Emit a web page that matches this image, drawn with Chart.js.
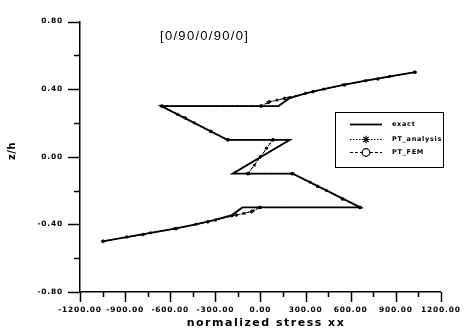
<!DOCTYPE html>
<html><head><meta charset="utf-8">
<script src="https://cdn.jsdelivr.net/npm/chart.js@4/dist/chart.umd.min.js"></script>
<style>html,body{margin:0;padding:0;background:#fff}canvas{display:block}</style>
</head><body>
<canvas id="c" width="472" height="331"></canvas>
<script>
// ---- data ----
const exactX = [1030, 860, 700, 550, 420, 300, 190, 120, -660, -220, 195, -185, 215, 665, -120, -190, -310, -430, -570, -730, -890, -1050];
const exactZ = [0.50, 0.475, 0.45, 0.425, 0.40, 0.375, 0.345, 0.30, 0.30, 0.10, 0.10, -0.10, -0.10, -0.30, -0.30, -0.345, -0.375, -0.40, -0.425, -0.45, -0.475, -0.50];

const ptaX = [1030, 860, 700, 550, 420, 300, 190, 110, 50, 0, -660, -550, -440, -330, -220, 80, 40, 0, -40, -80, 215, 330, 440, 550, 665, 0, -50, -110, -190, -300, -430, -570, -730, -890, -1050];
const ptaZ = [0.50, 0.475, 0.45, 0.425, 0.40, 0.375, 0.35, 0.335, 0.32, 0.30, 0.30, 0.25, 0.20, 0.15, 0.10, 0.10, 0.05, 0.00, -0.05, -0.10, -0.10, -0.15, -0.20, -0.25, -0.30, -0.30, -0.32, -0.335, -0.35, -0.375, -0.40, -0.425, -0.45, -0.475, -0.50];

const ptfX = [1025, 780, 560, 350, 160, 60, 5, -655, -500, -330, -215, 85, 0, -85, 210, 380, 545, 660, -5, -60, -160, -350, -560, -780, -1045];
const ptfZ = [0.50, 0.46, 0.425, 0.385, 0.345, 0.325, 0.30, 0.30, 0.23, 0.15, 0.10, 0.10, 0.00, -0.10, -0.10, -0.175, -0.25, -0.30, -0.30, -0.325, -0.345, -0.385, -0.425, -0.46, -0.50];

const seriesLabels = ["exact", "PT_analysis", "PT_FEM"];
const xTickLabelStep = 300, xMinorStep = 150;
const yTickLabelStep = 0.4, yMinorStep = 0.2;
const plotTitle = "[0/90/0/90/0]";
const xTitle = "normalized stress xx";
const yTitle = "z/h";

const pts = (xs, zs) => xs.map((x, i) => ({x: x, y: zs[i]}));

const decor = {
  id: 'decor',
  beforeDraw(chart) { chart.ctx.letterSpacing = '0.8px'; },
  afterDraw(chart) {
    const ctx = chart.ctx, xs = chart.scales.x, ys = chart.scales.y, a = chart.chartArea;
    ctx.save();
    ctx.strokeStyle = '#000'; ctx.fillStyle = '#000'; ctx.lineWidth = 1.5; ctx.setLineDash([]);
    // tick marks
    for (let v = -1200; v <= 1200; v += xMinorStep) {
      const px = Math.round(xs.getPixelForValue(v)) + 0.5;
      const len = (v % xTickLabelStep === 0) ? 10 : 5;
      ctx.beginPath(); ctx.moveTo(px, a.bottom); ctx.lineTo(px, a.bottom + len); ctx.stroke();
    }
    for (let k = -4; k <= 4; k++) {
      const v = k * yMinorStep;
      const py = Math.round(ys.getPixelForValue(v)) + 0.5;
      const len = (k % 2 === 0) ? 12 : 6;
      ctx.beginPath(); ctx.moveTo(a.left, py); ctx.lineTo(a.left - len, py); ctx.stroke();
    }
    // plot title
    ctx.letterSpacing = '1.3px';
    ctx.font = '13px "Liberation Sans", Arial, sans-serif';
    ctx.textAlign = 'left'; ctx.textBaseline = 'alphabetic';
    ctx.fillText(plotTitle, 160, 40);
    // x title
    ctx.letterSpacing = '1.5px';
    ctx.font = 'bold 11px "DejaVu Sans", sans-serif';
    ctx.textAlign = 'center';
    ctx.fillText(xTitle, 266, 326);
    // y title
    ctx.save();
    ctx.translate(12, 151); ctx.rotate(-Math.PI / 2);
    ctx.letterSpacing = '0.5px';
    ctx.font = 'bold 10px "DejaVu Sans", sans-serif';
    ctx.textBaseline = 'middle';
    ctx.fillText(yTitle, 0, 0);
    ctx.restore();
    // legend
    ctx.lineWidth = 1; ctx.letterSpacing = '0px';
    ctx.strokeRect(335.5, 112.5, 108, 55);
    const rows = [124, 139, 152];
    chart.data.datasets.forEach((ds, i) => {
      const y = rows[i] + 0.5;
      ctx.save();
      ctx.strokeStyle = ds.borderColor; ctx.lineWidth = ds.borderWidth;
      ctx.setLineDash(ds.borderDash || []);
      ctx.beginPath(); ctx.moveTo(350, y); ctx.lineTo(382, y); ctx.stroke();
      ctx.setLineDash([]);
      if (ds.pointRadius > 0) {
        ctx.fillStyle = '#fff'; ctx.strokeStyle = ds.pointBorderColor; ctx.lineWidth = 1.2;
        Chart.helpers.drawPoint(ctx, {pointStyle: ds.pointStyle, radius: 3.8, rotation: 0, borderWidth: 1.2}, 366, y);
      }
      ctx.restore();
      ctx.letterSpacing = '0.7px';
      ctx.font = 'bold 6.5px "DejaVu Sans", sans-serif';
      ctx.textAlign = 'left'; ctx.textBaseline = 'middle';
      ctx.fillStyle = '#000';
      ctx.fillText(ds.label, 392, y);
    });
    ctx.restore();
    ctx.letterSpacing = '0px';
  }
};

new Chart(document.getElementById('c'), {
  type: 'scatter',
  data: {
    datasets: [
      {label: seriesLabels[0], data: pts(exactX, exactZ), showLine: true, borderColor: '#000', borderWidth: 1.8,
       pointRadius: 0, pointBackgroundColor: '#000', pointBorderColor: '#000', tension: 0},
      {label: seriesLabels[1], data: pts(ptaX, ptaZ), showLine: true, borderColor: '#000', borderWidth: 1,
       borderDash: [1.5, 1.5], pointStyle: 'star', pointRadius: 1.6, pointBorderWidth: 1,
       pointBackgroundColor: '#000', pointBorderColor: '#000', tension: 0},
      {label: seriesLabels[2], data: pts(ptfX, ptfZ), showLine: true, borderColor: '#000', borderWidth: 1,
       borderDash: [3, 2], pointStyle: 'circle', pointRadius: 1.3, pointBorderWidth: 1,
       pointBackgroundColor: '#000', pointBorderColor: '#000', tension: 0}
    ]
  },
  options: {
    responsive: false, animation: false, devicePixelRatio: 1,
    layout: {padding: {left: 0, right: 22, top: 12, bottom: 0}},
    plugins: {legend: {display: false}, tooltip: {enabled: false}},
    scales: {
      x: {
        type: 'linear', min: -1200, max: 1200,
        afterFit(s) { s.height = 39; },
        border: {display: true, color: '#000', width: 1.5},
        grid: {display: true, drawOnChartArea: false, drawTicks: false},
        ticks: {stepSize: xMinorStep, autoSkip: false, maxRotation: 0, padding: 14, color: '#000',
          font: {family: '"DejaVu Sans", sans-serif', size: 7.5, weight: 'bold'},
          callback: v => (Math.round(v) % xTickLabelStep === 0) ? v.toFixed(2) : ''}
      },
      y: {
        type: 'linear', min: -0.8, max: 0.8,
        afterFit(s) { s.width = 80; },
        border: {display: true, color: '#000', width: 1.5},
        grid: {display: true, drawOnChartArea: false, drawTicks: false},
        ticks: {stepSize: yMinorStep, autoSkip: false, padding: 17, color: '#000',
          font: {family: '"DejaVu Sans", sans-serif', size: 7.5, weight: 'bold'},
          callback: v => (Math.round(v * 10) % 4 === 0) ? (Math.abs(v) < 1e-9 ? 0 : v).toFixed(2) : ''}
      }
    }
  },
  plugins: [decor]
});
</script>
</body></html>
